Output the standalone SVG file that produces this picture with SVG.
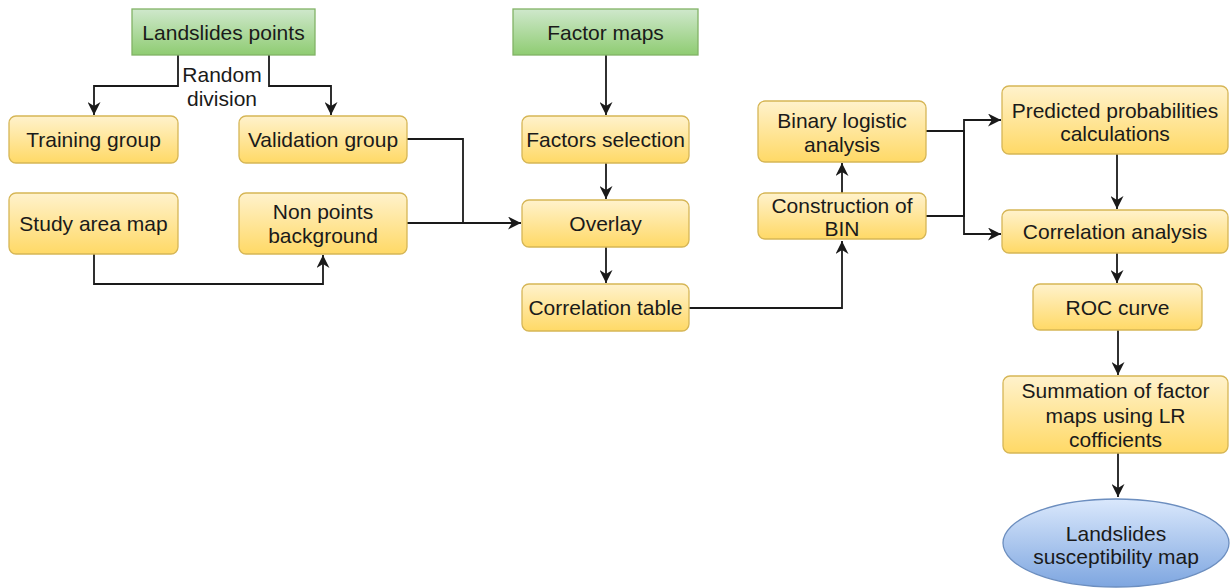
<svg xmlns="http://www.w3.org/2000/svg" width="1230" height="588" viewBox="0 0 1230 588">
<defs>
<linearGradient id="gY" x1="0" y1="0" x2="0" y2="1"><stop offset="0" stop-color="#fff2cc"/><stop offset="1" stop-color="#ffd966"/></linearGradient>
<linearGradient id="gG" x1="0" y1="0" x2="0" y2="1"><stop offset="0" stop-color="#cfe8cc"/><stop offset="1" stop-color="#8fcc72"/></linearGradient>
<linearGradient id="gB" x1="0" y1="0" x2="0" y2="1"><stop offset="0" stop-color="#dae8fc"/><stop offset="1" stop-color="#7ea6e0"/></linearGradient>
<marker id="ar" markerWidth="13" markerHeight="13" refX="10" refY="5" orient="auto" markerUnits="userSpaceOnUse" viewBox="0 0 10 10">
<path d="M0,0 L10,5 L0,10 L3,5 z" fill="#1a1a1a"/>
</marker>
<style>
.y{fill:url(#gY);stroke:#d6b656;stroke-width:1.3}
.g{fill:url(#gG);stroke:#82b366;stroke-width:1.3}
.b{fill:url(#gB);stroke:#6c8ebf;stroke-width:1.3}
text{font-family:"Liberation Sans",Arial,Helvetica,sans-serif;font-size:21px;fill:#1a1a1a;text-anchor:middle}
.c path{fill:none;stroke:#1a1a1a;stroke-width:1.8}
.c .a{marker-end:url(#ar)}
</style>
</defs>
<g class="c" id="connectors">
<path class="a" d="M178,55 V86 H94 V115"/>
<path class="a" d="M269,55 V86 H331 V115"/>
<path class="a" d="M94,254 V284 H323 V255"/>
<path d="M407,139 H463 V223"/>
<path class="a" d="M407,223 H521"/>
<path class="a" d="M606,55 V115"/>
<path class="a" d="M606,163 V199"/>
<path class="a" d="M606,247 V283"/>
<path class="a" d="M689,308 H842 V241"/>
<path class="a" d="M842,193 V163"/>
<path class="a" d="M926,131 H964 V234 H1001"/>
<path class="a" d="M926,216 H964 V120 H1001"/>
<path class="a" d="M1117,154 V209"/>
<path class="a" d="M1117,253 V283"/>
<path class="a" d="M1118,330 V375"/>
<path class="a" d="M1118,453 V497"/>
</g>
<text x="222" y="82">Random</text>
<text x="222" y="106">division</text>
<g id="landslides-points"><rect class="g" x="132" y="9" width="183" height="46"/><text x="223.5" y="40">Landslides points</text></g>
<g id="factor-maps"><rect class="g" x="513" y="9" width="185" height="46"/><text x="605.5" y="40">Factor maps</text></g>
<g id="training-group"><rect class="y" x="9" y="116" width="169" height="47" rx="7"/><text x="93.5" y="147">Training group</text></g>
<g id="validation-group"><rect class="y" x="239" y="116" width="168" height="47" rx="7"/><text x="323" y="147">Validation group</text></g>
<g id="study-area-map"><rect class="y" x="9" y="193" width="169" height="61" rx="7"/><text x="93.5" y="231">Study area map</text></g>
<g id="non-points"><rect class="y" x="239" y="193" width="168" height="61" rx="7"/><text x="323" y="219">Non points</text><text x="323" y="243">background</text></g>
<g id="factors-selection"><rect class="y" x="522" y="116" width="167" height="47" rx="7"/><text x="605.5" y="147">Factors selection</text></g>
<g id="overlay"><rect class="y" x="522" y="200" width="167" height="47" rx="7"/><text x="605.5" y="231">Overlay</text></g>
<g id="correlation-table"><rect class="y" x="522" y="284" width="167" height="47" rx="7"/><text x="605.5" y="315">Correlation table</text></g>
<g id="binary-logistic"><rect class="y" x="758" y="101" width="168" height="61" rx="7"/><text x="842" y="128">Binary logistic</text><text x="842" y="152">analysis</text></g>
<g id="construction-bin"><rect class="y" x="758" y="193" width="168" height="46" rx="7"/><text x="842" y="213">Construction of</text><text x="842" y="236">BIN</text></g>
<g id="predicted"><rect class="y" x="1002" y="86" width="226" height="68" rx="7"/><text x="1115" y="118">Predicted probabilities</text><text x="1115" y="141">calculations</text></g>
<g id="correlation-analysis"><rect class="y" x="1002" y="210" width="226" height="43" rx="7"/><text x="1115" y="239">Correlation analysis</text></g>
<g id="roc-curve"><rect class="y" x="1033" y="284" width="169" height="46" rx="7"/><text x="1117.5" y="315">ROC curve</text></g>
<g id="summation"><rect class="y" x="1003" y="376" width="225" height="77" rx="7"/><text x="1115.5" y="398">Summation of factor</text><text x="1115.5" y="423">maps using LR</text><text x="1115.5" y="447">cofficients</text></g>
<g id="susceptibility-map"><ellipse class="b" cx="1116" cy="543" rx="113" ry="44"/><text x="1116" y="541">Landslides</text><text x="1116" y="564">susceptibility map</text></g>
</svg>
